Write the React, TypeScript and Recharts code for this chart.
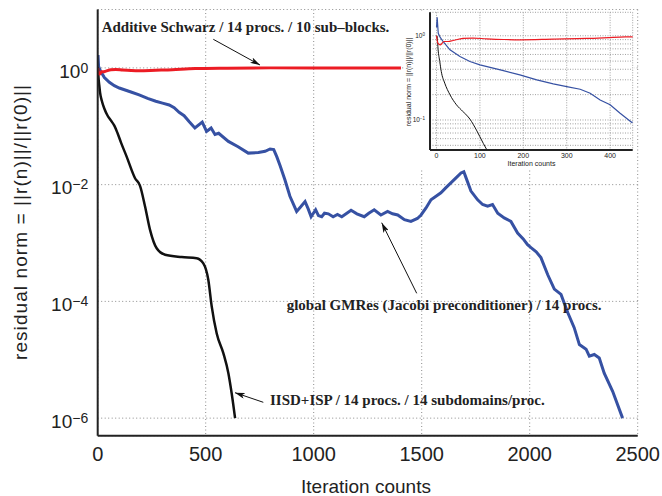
import React from 'react';
import { LineChart, Line, XAxis, YAxis, CartesianGrid } from 'recharts';

const xTicks = [0, 500, 1000, 1500, 2000, 2500];
const yTicks = [1e-6, 1e-4, 1e-2, 1];
const insetXTicks = [0, 100, 200, 300, 400];
const insetYTicks = [0.05, 0.06, 0.07, 0.08, 0.09, 0.1, 0.2, 0.3, 0.4, 0.5, 0.6, 0.7, 0.8, 0.9, 1];
const insetYLabels = [0.1, 1];

// [iteration, log10(residual norm)]
const schwarzLog = [
  [0, 0.0], [3, -0.087], [9, -0.107], [17, -0.068], [27, -0.068], [38, -0.056],
  [61, -0.032], [84, -0.028], [115, -0.036], [154, -0.044], [192, -0.048],
  [269, -0.04], [346, -0.032], [423, -0.016], [452, -0.012], [600, -0.005],
  [800, 0.0], [1000, 0.0], [1200, 0.0], [1404, 0.0],
];

const gmresLog = [
  [0, 0.1], [1.5, 0.22], [4, 0.03], [7.5, -0.01], [15, -0.068], [31, -0.167],
  [54, -0.246], [77, -0.306], [100, -0.345], [154, -0.413], [192, -0.464],
  [231, -0.524], [269, -0.571], [300, -0.603], [331, -0.635], [354, -0.683],
  [377, -0.762], [400, -0.82], [423, -0.92], [450, -1.03], [484, -0.93],
  [504, -1.09], [525, -1.03], [543, -1.14], [560, -1.12], [605, -1.26],
  [650, -1.35], [697, -1.46], [744, -1.45], [775, -1.43], [798, -1.39],
  [815, -1.4], [829, -1.52], [845, -1.68], [867, -1.92], [890, -2.2],
  [921, -2.46], [940, -2.38], [960, -2.29], [975, -2.42], [988, -2.55],
  [1009, -2.43], [1022, -2.53], [1037, -2.55], [1050, -2.49], [1068, -2.5],
  [1090, -2.55], [1110, -2.51], [1130, -2.55], [1150, -2.5], [1173, -2.44],
  [1200, -2.5], [1234, -2.55], [1255, -2.49], [1280, -2.43], [1311, -2.52],
  [1342, -2.46], [1365, -2.5], [1389, -2.52], [1420, -2.6], [1450, -2.63],
  [1480, -2.58], [1497, -2.52], [1520, -2.4], [1543, -2.26], [1589, -2.14],
  [1610, -2.06], [1635, -1.97], [1660, -1.88], [1682, -1.8], [1695, -1.78],
  [1705, -1.88], [1728, -2.11], [1759, -2.26], [1782, -2.34], [1805, -2.37],
  [1828, -2.34], [1852, -2.49], [1882, -2.57], [1913, -2.63], [1944, -2.83],
  [1970, -2.93], [1990, -3.03], [2006, -3.08], [2030, -3.15], [2052, -3.25],
  [2083, -3.54], [2114, -3.79], [2145, -3.88], [2176, -4.19], [2206, -4.45],
  [2230, -4.74], [2261, -4.82], [2276, -4.94], [2299, -4.91], [2322, -4.97],
  [2345, -5.23], [2384, -5.54], [2430, -6.0],
];

const iisdLog = [
  [0, 0.0], [1.4, -0.008], [3.7, -0.167], [7.5, -0.306], [11, -0.425],
  [19, -0.563], [31, -0.7], [46, -0.82], [61, -0.9], [77, -0.99], [92, -1.12],
  [108, -1.28], [134, -1.52], [173, -1.89], [196, -2.02], [219, -2.37],
  [242, -2.77], [273, -3.09], [312, -3.2], [389, -3.24], [458, -3.26],
  [489, -3.35], [512, -3.63], [528, -4.09], [551, -4.55], [582, -4.89],
  [605, -5.23], [620, -5.57], [636, -6.0],
];

const toRows = (pts: number[][]) => pts.map(([it, lg]) => ({ it, r: Math.pow(10, lg) }));
const schwarz = toRows(schwarzLog);
const gmres = toRows(gmresLog);
const iisd = toRows(iisdLog);

const SANS = '"Liberation Sans", Arial, Helvetica, sans-serif';
const SERIF = '"Liberation Serif", "Times New Roman", serif';
const AXIS = '#222';
const GRID = '#8c8c8c';
const RED = '#ec1c24';
const BLUE = '#3651a3';
const BLACK = '#111';

const supText = (v: number) => {
  const e = Math.round(Math.log10(v));
  return e < 0 ? '\u2212' + -e : String(e);
};

const MainYTick = (props: any) => {
  const { x, y, payload } = props;
  return (
    <text x={x - 9.5} y={y + 9.7} textAnchor="end" fontFamily={SANS} fontSize={19} fill={AXIS}>
      10<tspan dy={-5} fontSize={14}>{supText(payload.value)}</tspan>
    </text>
  );
};

const MainXTick = (props: any) => {
  const { x, y, payload } = props;
  return (
    <text x={x} y={y + 25} textAnchor="middle" fontFamily={SANS} fontSize={20} fill={AXIS}>
      {payload.value}
    </text>
  );
};

const InsetYTick = (props: any) => {
  const { x, y, payload } = props;
  if (!insetYLabels.some((v) => Math.abs(v - payload.value) < 1e-9)) return <g />;
  return (
    <text x={x - 5} y={y + 2.5} textAnchor="end" fontFamily={SANS} fontSize={6.5} fill={AXIS}>
      10<tspan dy={-2.5} fontSize={4.5}>{supText(payload.value)}</tspan>
    </text>
  );
};

const InsetXTick = (props: any) => {
  const { x, y, payload } = props;
  return (
    <text x={x} y={y + 7.5} textAnchor="middle" fontFamily={SANS} fontSize={7} fill={AXIS}>
      {payload.value}
    </text>
  );
};

const MainChart = () => (
  <LineChart width={662} height={496} margin={{ top: 9.5, right: 24.3, bottom: 0.3, left: 7.7 }}>
    <CartesianGrid stroke={GRID} strokeDasharray="1 2.5" />
    <XAxis
      xAxisId={0} dataKey="it" type="number" domain={[0, 2500]} ticks={xTicks} interval={0}
      height={60} tickSize={0} tickMargin={0} tickLine={false}
      axisLine={{ stroke: AXIS, strokeWidth: 2 }} tick={<MainXTick />} allowDataOverflow
    />
    <XAxis
      xAxisId="top" orientation="top" mirror type="number" domain={[0, 2500]} ticks={xTicks}
      interval={0} height={0} tick={false} tickSize={5} tickLine={{ stroke: AXIS }}
      axisLine={{ stroke: AXIS, strokeWidth: 1.5 }} allowDataOverflow
    />
    <XAxis
      xAxisId="bottomIn" orientation="bottom" mirror type="number" domain={[0, 2500]} ticks={xTicks}
      interval={0} height={0} tick={false} tickSize={5} tickLine={{ stroke: AXIS }}
      axisLine={false} allowDataOverflow
    />
    <YAxis
      yAxisId={0} type="number" scale="log" domain={[5e-7, 10]} ticks={yTicks} interval={0}
      width={90} tickSize={0} tickMargin={0} tickLine={false}
      axisLine={{ stroke: AXIS, strokeWidth: 2 }} tick={<MainYTick />} allowDataOverflow
    />
    <YAxis
      yAxisId="right" orientation="right" mirror type="number" scale="log" domain={[5e-7, 10]}
      ticks={yTicks} interval={0} width={0} tick={false} tickSize={5} tickLine={{ stroke: AXIS }}
      axisLine={{ stroke: AXIS, strokeWidth: 2 }} allowDataOverflow
    />
    <YAxis
      yAxisId="leftIn" orientation="left" mirror type="number" scale="log" domain={[5e-7, 10]}
      ticks={yTicks} interval={0} width={0} tick={false} tickSize={5} tickLine={{ stroke: AXIS }}
      axisLine={false} allowDataOverflow
    />
    <Line data={gmres} dataKey="r" type="linear" stroke={BLUE} strokeWidth={3} dot={false} isAnimationActive={false} />
    <Line data={iisd} dataKey="r" type="monotone" stroke={BLACK} strokeWidth={2.5} dot={false} isAnimationActive={false} />
    <Line data={schwarz} dataKey="r" type="monotone" stroke={RED} strokeWidth={3} dot={false} isAnimationActive={false} />
  </LineChart>
);

const InsetChart = () => (
  <div style={{ position: 'absolute', left: 404, top: 11, width: 230, height: 157, background: '#fff' }}>
    <LineChart width={230} height={157} margin={{ top: 1.3, right: 1.3, bottom: 0, left: 0 }}>
      <CartesianGrid stroke="#a0a0a0" strokeDasharray="1 1.5" />
      <XAxis
        xAxisId={0} dataKey="it" type="number" domain={[-15, 452]} ticks={insetXTicks} interval={0}
        height={18} tickSize={0} tickMargin={0} tickLine={false}
        axisLine={{ stroke: AXIS, strokeWidth: 2 }} tick={<InsetXTick />} allowDataOverflow
      />
      <XAxis
        xAxisId="top" orientation="top" mirror type="number" domain={[-15, 452]} ticks={insetXTicks}
        interval={0} height={0} tick={false} tickSize={2.5} tickLine={{ stroke: AXIS }}
        axisLine={{ stroke: AXIS, strokeWidth: 2 }} allowDataOverflow
      />
      <YAxis
        yAxisId={0} type="number" scale="log" domain={[0.044, 1.9]} ticks={insetYTicks} interval={0}
        width={26} tickSize={0} tickMargin={0} tickLine={false}
        axisLine={{ stroke: AXIS, strokeWidth: 2 }} tick={<InsetYTick />} allowDataOverflow
      />
      <YAxis
        yAxisId="right" orientation="right" mirror type="number" scale="log" domain={[0.044, 1.9]}
        ticks={insetYLabels} interval={0} width={0} tick={false} tickSize={2.5} tickLine={{ stroke: AXIS }}
        axisLine={{ stroke: AXIS, strokeWidth: 2 }} allowDataOverflow
      />
      <Line data={gmres} dataKey="r" type="linear" stroke={BLUE} strokeWidth={1.2} dot={false} isAnimationActive={false} />
      <Line data={iisd} dataKey="r" type="monotone" stroke={BLACK} strokeWidth={1} dot={false} isAnimationActive={false} />
      <Line data={schwarz} dataKey="r" type="monotone" stroke={RED} strokeWidth={1.2} dot={false} isAnimationActive={false} />
    </LineChart>
  </div>
);

const Annotations = () => (
  <svg width={662} height={496} style={{ position: 'absolute', left: 0, top: 0, pointerEvents: 'none' }}>
    <defs>
      <marker id="ah" viewBox="0 0 10 6" refX="10" refY="3" markerWidth="10" markerHeight="6" orient="auto" markerUnits="userSpaceOnUse">
        <path d="M0,0 L10,3 L0,6 L2.5,3 z" fill={BLACK} />
      </marker>
    </defs>
    <text transform="translate(27,222.5) rotate(-90)" textAnchor="middle" fontFamily={SANS} fontSize={19} fill={AXIS} textLength={275} lengthAdjust="spacing">
      residual norm = ||r(n)||/||r(0)||
    </text>
    <text x={366} y={493} textAnchor="middle" fontFamily={SANS} fontSize={19} fill={AXIS}>
      Iteration counts
    </text>
    <text transform="translate(410.5,82) rotate(-90)" textAnchor="middle" fontFamily={SANS} fontSize={7} fill={AXIS}>
      residual norm = ||r(n)||/||r(0)||
    </text>
    <text x={531.5} y={165.5} textAnchor="middle" fontFamily={SANS} fontSize={7} fill={AXIS}>
      Iteration counts
    </text>

    <g fontFamily={SERIF} fontWeight="bold" fontSize={15} fill={AXIS}>
      <text x={101.7} y={31.7}>Additive Schwarz / 14 procs. / 10 sub–blocks.</text>
      <text x={286.7} y={310}>global GMRes (Jacobi preconditioner) / 14 procs.</text>
      <text x={270} y={405}>IISD+ISP / 14 procs. / 14 subdomains/proc.</text>
    </g>
    <g stroke={BLACK} strokeWidth={1}>
      <line x1={213.3} y1={39.3} x2={260} y2={65} markerEnd="url(#ah)" />
      <line x1={416.7} y1={293.3} x2={381.7} y2={222.7} markerEnd="url(#ah)" />
      <line x1={263.3} y1={402.3} x2={235} y2={392.7} markerEnd="url(#ah)" />
    </g>
  </svg>
);

export default function App() {
  return (
    <div style={{ position: 'absolute', left: 0, top: 0, width: 662, height: 496, background: '#fff' }}>
      <MainChart />
      <InsetChart />
      <Annotations />
    </div>
  );
}
